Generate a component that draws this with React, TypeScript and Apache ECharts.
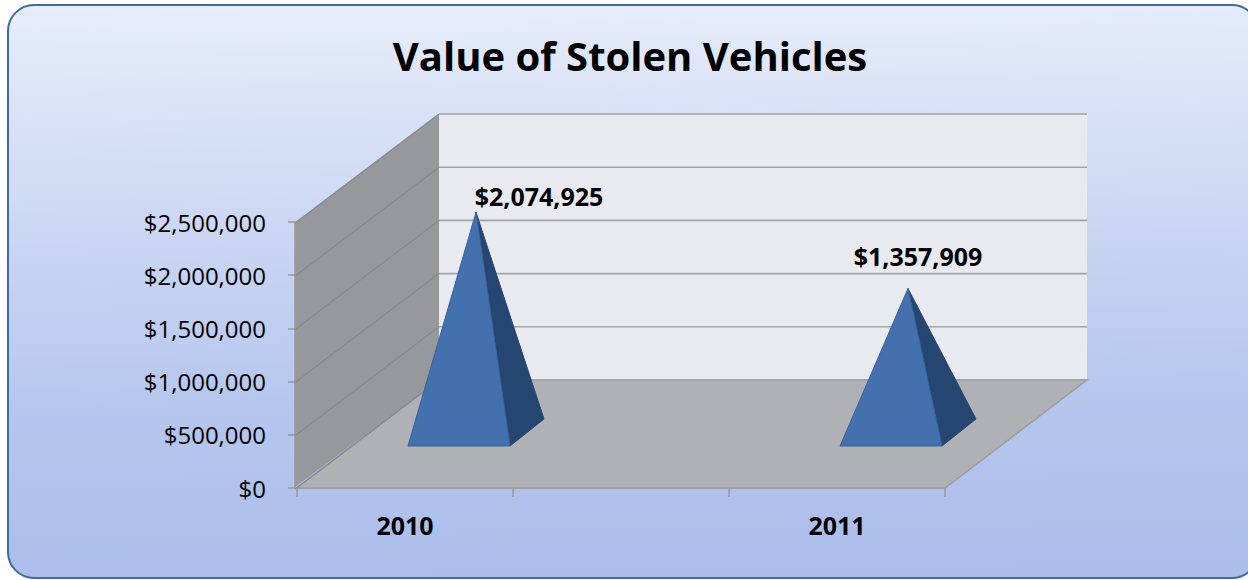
import React, { useEffect, useRef } from "react";
import * as echarts from "echarts";

const titleText = "Value of Stolen Vehicles";
const categories = ["2010", "", "2011"];
const stolenValues: (number | null)[] = [2074925, null, 1357909];
const tickValues = [0, 500000, 1000000, 1500000, 2000000, 2500000];

const FONT = "'Open Sans', Lato, sans-serif";
const DEPTH_X = 142;
const DEPTH_Y = -108;
const labelOffsets: Record<number, [number, number]> = { 0: [63, -16], 2: [10, -33] };

const money = (v: number) => "$" + v.toLocaleString("en-US");

function wallsItem(params: any) {
  const { x, y, width, height } = params.coordSys;
  const bottom = y + height;
  return {
    type: "group",
    silent: true,
    children: [
      {
        type: "polygon",
        shape: { points: [[x + DEPTH_X, y + DEPTH_Y], [x + width + DEPTH_X, y + DEPTH_Y], [x + width + DEPTH_X, bottom + DEPTH_Y], [x + DEPTH_X, bottom + DEPTH_Y]] },
        style: { fill: "#e9eaf0" },
      },
      {
        type: "polygon",
        shape: { points: [[x - 2, y + 1], [x + DEPTH_X, y + DEPTH_Y], [x + DEPTH_X, bottom + DEPTH_Y], [x - 2, bottom - 1]] },
        style: { fill: "#97989b" },
      },
      {
        type: "polygon",
        shape: { points: [[x, bottom], [x + width, bottom], [x + width + DEPTH_X, bottom + DEPTH_Y], [x + DEPTH_X, bottom + DEPTH_Y]] },
        style: { fill: "#b0b1b4", stroke: "#9c9da0", lineWidth: 1.5 },
      },
    ],
  };
}

function gridItem(params: any, api: any) {
  const { x, width } = params.coordSys;
  const py = api.coord([0, api.value(1)])[1];
  return {
    type: "group",
    silent: true,
    children: [
      {
        type: "line",
        shape: { x1: x - 2, y1: py + 1, x2: x + DEPTH_X, y2: py + DEPTH_Y },
        style: { stroke: "#87888b", lineWidth: 1.2 },
      },
      {
        type: "line",
        shape: { x1: x + DEPTH_X, y1: py + DEPTH_Y, x2: x + width + DEPTH_X, y2: py + DEPTH_Y },
        style: { stroke: "#a3a4a8", lineWidth: 1.6 },
      },
    ],
  };
}

function pyramidItem(_params: any, api: any) {
  const idx = api.value(0);
  const value = api.value(1);
  const base = api.coord([idx, 0]);
  const top = api.coord([idx, value]);
  const cx = base[0] + 71;
  const cy = base[1] - 56;
  const apex = [cx, top[1] - 55];
  const fl = [cx - 68, cy + 14];
  const fr = [cx + 34, cy + 14];
  const br = [cx + 68, cy - 13];
  const off = labelOffsets[idx] || [0, -20];
  return {
    type: "group",
    children: [
      {
        type: "polygon",
        shape: { points: [fr, br, apex] },
        style: { fill: "#264672", stroke: "#264672", lineWidth: 1 },
      },
      {
        type: "polygon",
        shape: { points: [fl, fr, apex] },
        style: { fill: "#4371ae", stroke: "#3a639d", lineWidth: 1 },
      },
      {
        type: "text",
        style: {
          x: apex[0] + off[0],
          y: apex[1] + off[1],
          text: money(value),
          fill: "#000",
          font: `bold 25px ${FONT}`,
          textAlign: "center",
          textVerticalAlign: "middle",
        },
      },
    ],
  };
}

export default function App() {
  const ref = useRef<HTMLDivElement>(null);
  useEffect(() => {
    document.body.style.margin = "0";
    const chart = echarts.init(ref.current!, null, { renderer: "svg" });
    chart.setOption({
      animation: false,
      title: {
        text: titleText,
        left: 625,
        top: 30,
        textAlign: "center",
        textStyle: { fontFamily: FONT, fontWeight: "bold", fontSize: 40, color: "#000" },
      },
      graphic: [
        {
          type: "rect",
          z: -1,
          silent: true,
          shape: { x: 8, y: 5, width: 1250, height: 573, r: 26 },
          style: {
            fill: new echarts.graphic.LinearGradient(0, 0, 0.03, 1, [
              { offset: 0, color: "#e7edfa" },
              { offset: 0.55, color: "#c0cef0" },
              { offset: 0.7, color: "#b6c7ee" },
              { offset: 1, color: "#abbdea" },
            ]),
            stroke: "#3f6aa5",
            lineWidth: 2,
          },
        },
      ],
      grid: { left: 297, top: 222, width: 648, height: 266 },
      xAxis: {
        type: "category",
        data: categories,
        axisLine: { lineStyle: { color: "#98989b", width: 1.5 } },
        axisTick: { show: true, length: 9, lineStyle: { color: "#98989b", width: 1.5 } },
        axisLabel: { margin: 24, fontFamily: FONT, fontWeight: "bold", fontSize: 25, color: "#000" },
      },
      yAxis: {
        type: "value",
        min: 0,
        max: 2500000,
        interval: 500000,
        offset: 2,
        splitLine: { show: false },
        axisLine: { show: true, lineStyle: { color: "#98989b", width: 1.5 } },
        axisTick: { show: true, length: 7, lineStyle: { color: "#98989b", width: 1.5 } },
        axisLabel: { margin: 29, padding: [4, 0, 0, 0], fontFamily: FONT, fontSize: 24, color: "#000", formatter: (v: number) => money(v) },
      },
      series: [
        { type: "custom", z: 1, clip: false, renderItem: wallsItem, data: [[0, 0]], encode: { x: 0, y: 1 }, silent: true },
        { type: "custom", z: 2, clip: false, renderItem: gridItem, data: tickValues.map((v) => [0, v]), encode: { x: 0, y: 1 }, silent: true },
        {
          type: "custom",
          z: 3,
          clip: false,
          renderItem: pyramidItem,
          data: stolenValues.map((v, i) => [i, v]).filter((d) => d[1] !== null),
          encode: { x: 0, y: 1 },
        },
      ],
    });
    return () => chart.dispose();
  }, []);
  return <div ref={ref} style={{ width: 1248, height: 580 }} />;
}
